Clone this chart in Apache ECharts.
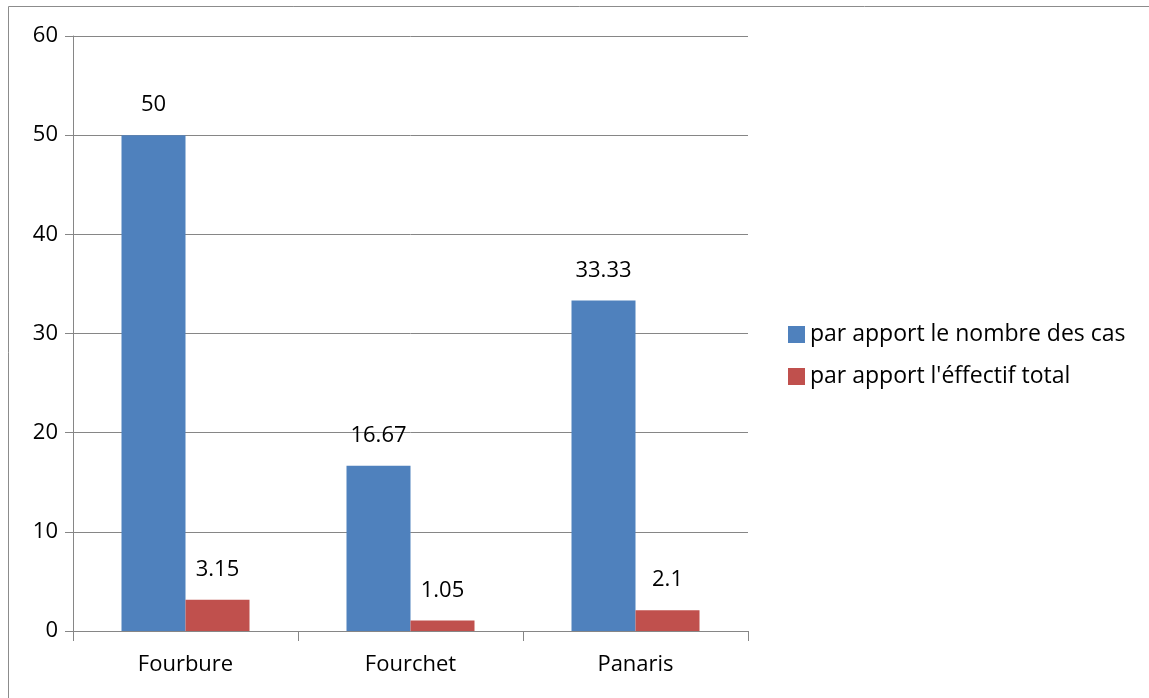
<!DOCTYPE html>
<html>
<head>
<meta charset="utf-8">
<script src="https://cdn.jsdelivr.net/npm/echarts@6/dist/echarts.min.js"></script>
<style>
html,body{margin:0;padding:0;background:#fff;}
#c{width:1149px;height:698px;}
</style>
</head>
<body>
<div id="c"></div>
<script>
const categories = ['Fourbure', 'Fourchet', 'Panaris'];
const seriesNames = ['par apport le nombre des cas', "par apport l'éffectif total"];
const casValues = [50, 16.67, 33.33];
const effectifValues = [3.15, 1.05, 2.1];
const yTicks = { min: 0, max: 60, interval: 10 };

const FONT = 'Open Sans';
const FS = 22;
const chart = echarts.init(document.getElementById('c'));
chart.setOption({
  backgroundColor: '#fff',
  animation: false,
  textStyle: { fontFamily: FONT },
  graphic: [{
    type: 'rect',
    shape: { x: 8.5, y: 6.5, width: 1200, height: 800 },
    style: { fill: 'none', stroke: '#8c8c8c', lineWidth: 1 },
    silent: true
  }],
  grid: { left: 73, top: 36, width: 675, height: 595, containLabel: false },
  legend: {
    orient: 'vertical',
    left: 783,
    top: 318,
    itemWidth: 17,
    itemHeight: 17,
    itemGap: 19,
    icon: 'rect',
    textStyle: { fontFamily: FONT, fontSize: 23, color: '#000' },
    data: seriesNames
  },
  xAxis: {
    type: 'category',
    data: categories,
    axisLine: { lineStyle: { color: '#868686', width: 1 } },
    axisTick: { show: true, length: 10, alignWithLabel: false, lineStyle: { color: '#868686' } },
    axisLabel: { fontFamily: FONT, fontSize: FS, color: '#000', margin: 23 }
  },
  yAxis: {
    type: 'value',
    min: yTicks.min, max: yTicks.max, interval: yTicks.interval,
    axisLine: { show: true, lineStyle: { color: '#868686', width: 1 } },
    axisTick: { show: true, length: 8, lineStyle: { color: '#868686' } },
    splitLine: { lineStyle: { color: '#868686', width: 1 } },
    axisLabel: { fontFamily: FONT, fontSize: FS, color: '#000', margin: 15 }
  },
  series: [
    {
      name: seriesNames[0], type: 'bar', data: casValues,
      barWidth: 64, barGap: '0%',
      itemStyle: { color: '#4F81BD' },
      label: { show: true, position: 'top', distance: 19, fontFamily: FONT, fontSize: FS, color: '#000' }
    },
    {
      name: seriesNames[1], type: 'bar', data: effectifValues,
      barWidth: 64, barGap: '0%',
      itemStyle: { color: '#C0504D' },
      label: { show: true, position: 'top', distance: 19, fontFamily: FONT, fontSize: FS, color: '#000' }
    }
  ]
});
</script>
</body>
</html>
